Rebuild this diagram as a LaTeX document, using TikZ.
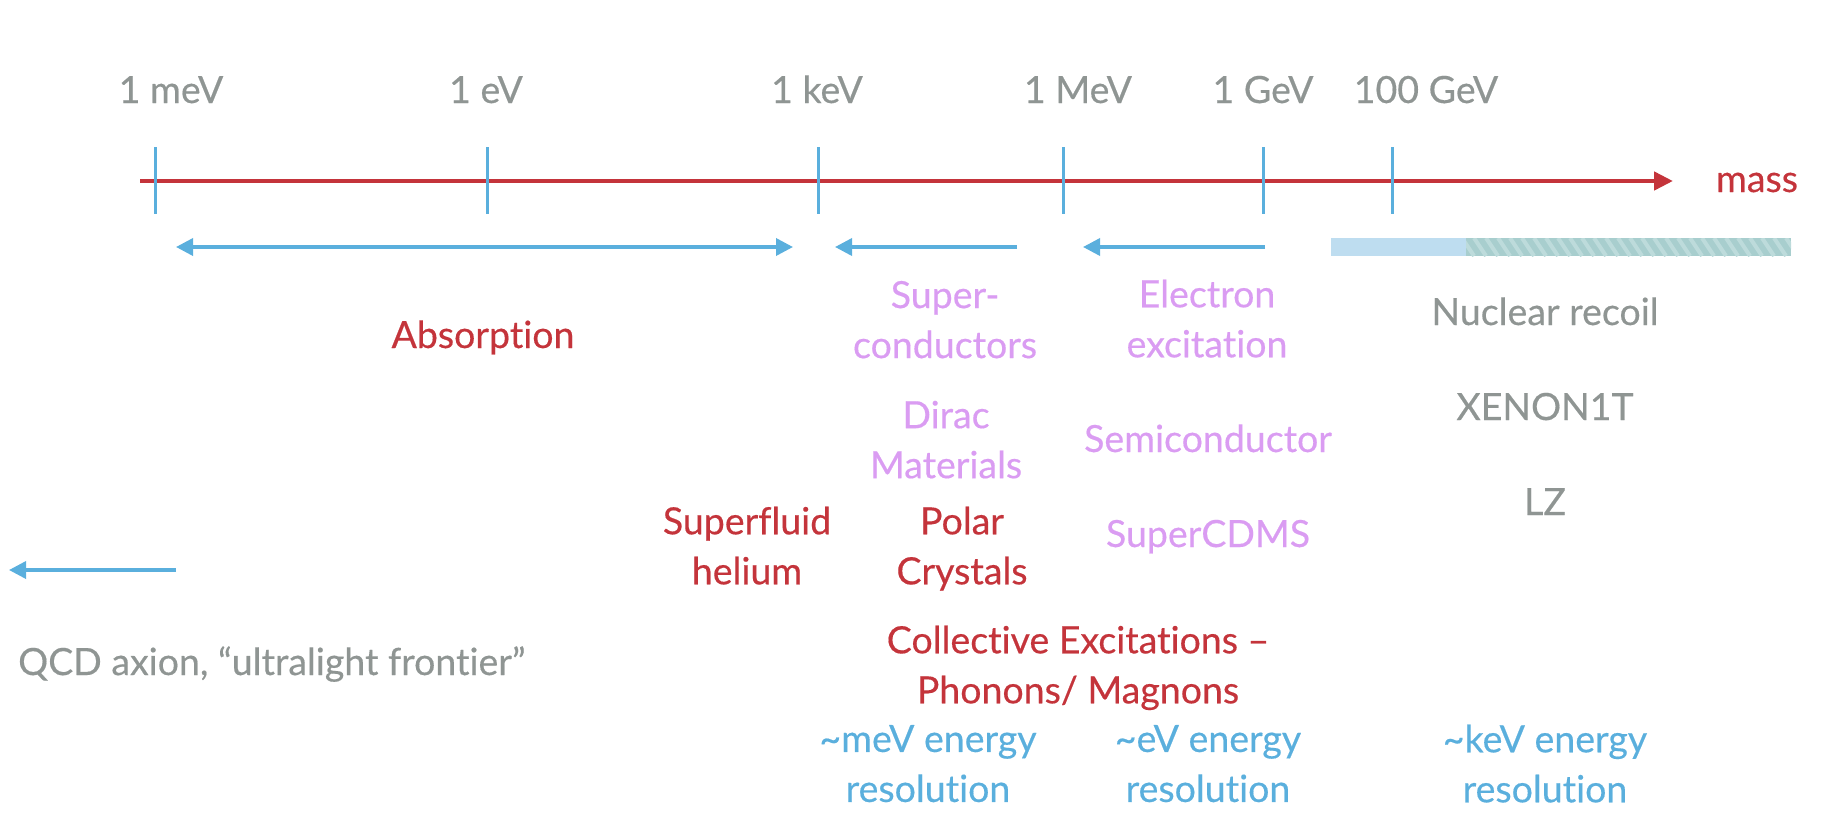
\documentclass[tikz,border=0pt]{standalone}
\usepackage{fontspec}
\setmainfont{Lato}[Ligatures=NoCommon, FakeBold=0.4]
\usetikzlibrary{arrows.meta}
\definecolor{axisred}{HTML}{C4343B}
\definecolor{tickblue}{HTML}{5AAFDD}
\definecolor{labgray}{HTML}{8F9593}
\definecolor{lilac}{HTML}{DA9CF2}
\definecolor{barblue}{HTML}{BEDDF0}
\definecolor{barteal}{HTML}{A8CECE}
\definecolor{barstripe}{HTML}{BDDBDB}
\begin{document}
\begin{tikzpicture}[x=1pt,y=-1pt,
    lbl/.style={inner sep=0pt, align=center, font=\fontsize{37.5}{50}\selectfont,
      execute at begin node=\strut, execute at end node=\strut},
    tickline/.style={tickblue, line width=3pt},
    rangearrow/.style={tickblue, line width=3.5pt, -{Triangle[length=17pt,width=17pt]}}]
    \useasboundingbox (0,0) rectangle (1836,830);

    % Axis
    \coordinate (axL) at (140,181);
    \coordinate (axR) at (1673,181);
    \draw[axisred, line width=4.5pt, -{Triangle[length=19pt,width=18pt]}] (axL) -- (axR);
    \node[lbl, text=axisred] (mass) at (1757,182) {mass};

    % Ticks and mass labels
    \foreach \tx/\tl/\lx [count=\i] in {155/1 meV/171, 487/1 eV/486, 818/1 keV/817,
        1063/1 MeV/1078, 1263/1 GeV/1263, 1392/100 GeV/1426} {
        \draw[tickline] (\tx,147) -- (\tx,214);
        \node[lbl, text=labgray] (tick\i) at (\lx,93) {\tl};
    }

    % Ranges
    \coordinate (absL) at (176,247);
    \coordinate (absR) at (793,247);
    \coordinate (supR) at (1017,247);
    \coordinate (supL) at (835,247);
    \coordinate (eleR) at (1265,247);
    \coordinate (eleL) at (1083,247);
    \coordinate (qcdR) at (176,570);
    \coordinate (qcdL) at (9,570);
    \draw[rangearrow, {Triangle[length=17pt,width=17pt]}-{Triangle[length=17pt,width=17pt]}] (absL) -- (absR);
    \draw[rangearrow] (supR) -- (supL);
    \draw[rangearrow] (eleR) -- (eleL);
    \draw[rangearrow] (qcdR) -- (qcdL);

    % Nuclear recoil bar
    \fill[barblue] (1331,238) rectangle (1466,256);
    \begin{scope}
        \clip (1466,238) rectangle (1791,256);
        \fill[barteal] (1466,238) rectangle (1791,256);
        \foreach \s in {1450,1462,...,1791}
            \draw[barstripe, line width=4pt] (\s,238) -- ++(12,18);
    \end{scope}

    % Labels
    \node[lbl, text=axisred] (absorb) at (483,338) {Absorption};
    \node[lbl, text=lilac] (supcon) at (945,327) {Super-\\conductors};
    \node[lbl, text=lilac] (elexc) at (1207,326) {Electron\\excitation};
    \node[lbl, text=labgray] (nucrec) at (1545,315) {Nuclear recoil};
    \node[lbl, text=lilac] (dirac) at (946,447) {Dirac\\Materials};
    \node[lbl, text=lilac] (semi) at (1208,442) {Semiconductor};
    \node[lbl, text=labgray] (xenon) at (1545,410) {XENON1T};
    \node[lbl, text=axisred] (helium) at (747,553) {Superfluid\\helium};
    \node[lbl, text=axisred] (polar) at (962,553) {Polar\\Crystals};
    \node[lbl, text=lilac] (cdms) at (1208,537) {SuperCDMS};
    \node[lbl, text=labgray] (lz) at (1545,505) {LZ};
    \node[lbl, text=labgray, anchor=west] (qcd) at (18,665) {QCD axion, “ultralight frontier”};
    \node[lbl, text=axisred] (collect) at (1078,672) {Collective Excitations –\\Phonons/ Magnons};

    % Resolutions
    \node[lbl, text=tickblue] (resmev) at (928,771) {\textasciitilde meV energy\\resolution};
    \node[lbl, text=tickblue] (resev) at (1208,771) {\textasciitilde eV energy\\resolution};
    \node[lbl, text=tickblue] (reskev) at (1545,771) {\textasciitilde keV energy\\resolution};
\end{tikzpicture}
\end{document}
